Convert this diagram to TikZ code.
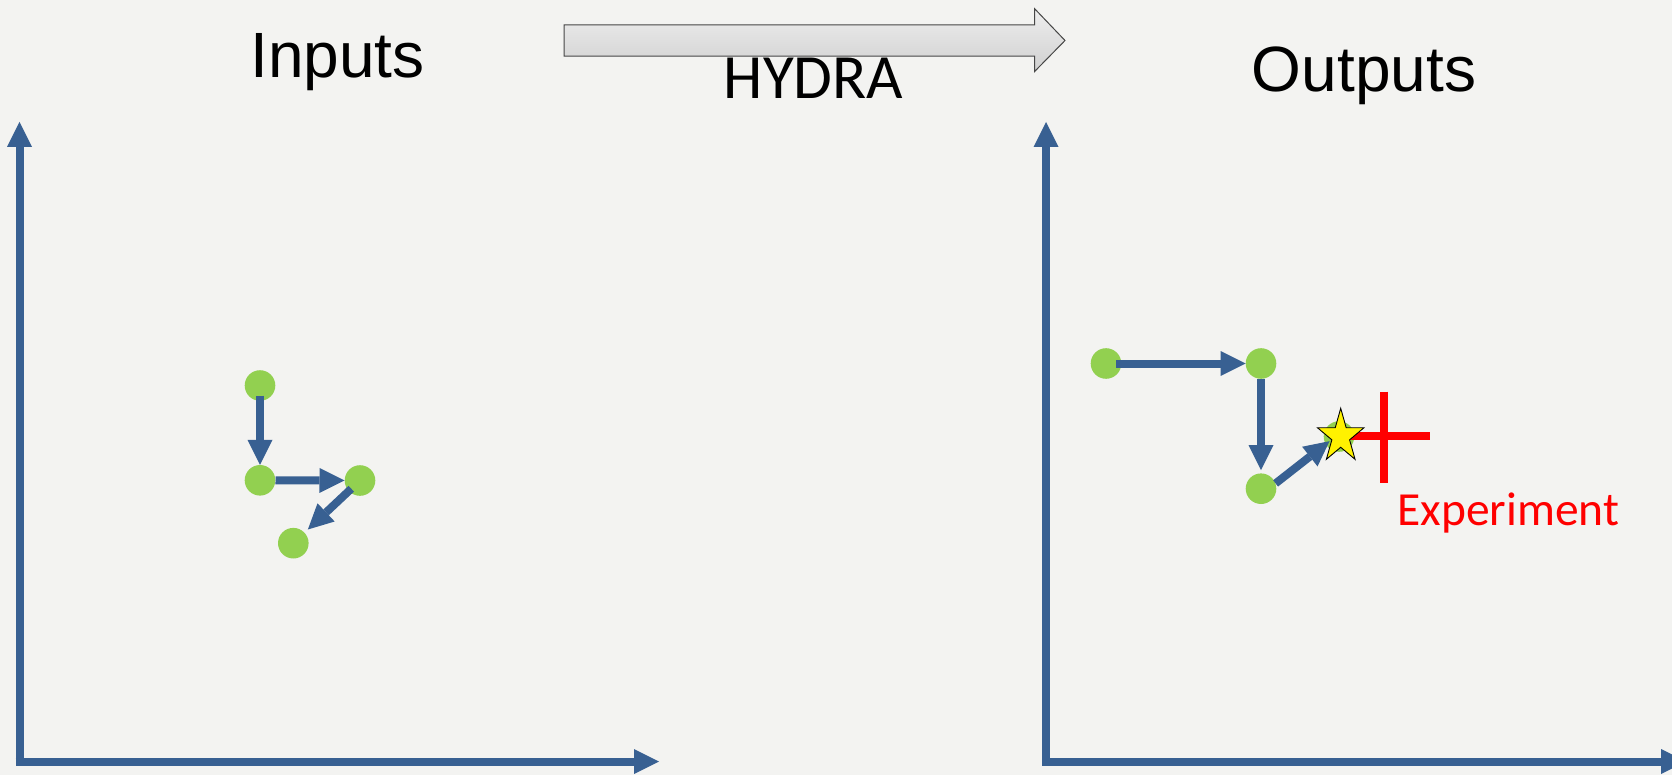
\documentclass[tikz,border=0pt]{standalone}
\usepackage{fontspec}
\newfontfamily\arialfont{Liberation Sans}
\newfontfamily\califont{Carlito}
\usetikzlibrary{arrows.meta}
\definecolor{bg}{RGB}{243,243,241}
\definecolor{axisblue}{RGB}{56,96,146}
\definecolor{dotgreen}{RGB}{146,208,80}
\definecolor{arrowedge}{RGB}{70,70,70}
\definecolor{shadetop}{RGB}{238,238,238}
\definecolor{shadebot}{RGB}{208,208,208}
\begin{document}
\begin{tikzpicture}[x=1pt,y=-1pt,
  dot/.style={circle, fill=dotgreen, minimum size=30.6pt, inner sep=0pt},
  conn/.style={draw=axisblue, line width=8pt, line cap=butt,
    -{Triangle[length=25pt,width=25pt,line width=0pt]}},
  title/.style={inner sep=0pt, anchor=base, font=\arialfont\fontsize{64}{64}\selectfont},
  crossbar/.style={draw=red, line width=8pt}]
% canvas
\fill[bg] (0,0) rectangle (1672,775);
\useasboundingbox (0,0) rectangle (1672,775);
\clip (0,0) rectangle (1672,775);

% titles
\node[title] (tin) at (337.5,77.7) {Inputs};
\node[title] (tout) at (1364,91.7) {Outputs};

% block arrow between the panels
\shade[top color=shadetop, bottom color=shadebot, draw=arrowedge, line width=1pt, line join=miter]
  (564,24.8) -- (1034.5,24.8) -- (1034.5,8.6) -- (1065,40.5) -- (1034.5,71.6)
  -- (1034.5,56.1) -- (564,56.1) -- cycle;
\node[inner sep=0pt, anchor=base, font=\califont\fontsize{63}{63}\selectfont] (hydra) at (813.5,98.5) {HYDRA};

% left axes
\coordinate (lo) at (19.5,761.5);
\coordinate (loh) at (15.5,761.5);
\coordinate (ly) at (19.5,122);
\coordinate (lx) at (659,761.5);
\draw[conn] (lo) -- (ly);
\draw[conn] (loh) -- (lx);

% right axes
\coordinate (ro) at (1046,761.5);
\coordinate (roh) at (1042,761.5);
\coordinate (ry) at (1046,122);
\coordinate (rx) at (1686,761.5);
\draw[conn] (ro) -- (ry);
\draw[conn] (roh) -- (rx);

% input points
\node[dot] (d1) at (260,385.5) {};
\node[dot] (d2) at (260,480.3) {};
\node[dot] (d3) at (360,480.5) {};
\node[dot] (d4) at (293.3,543.2) {};
\draw[conn, shorten <=10pt] (d1.center) -- (d2);
\draw[conn] (d2) -- (d3);
\draw[conn, shorten <=12pt, shorten >=20pt] (d3.center) -- (d4.center);

% output points
\node[dot] (a) at (1106,363.5) {};
\node[dot] (b) at (1261,363.5) {};
\node[dot] (c) at (1261,488.7) {};
\node[dot] (d) at (1339,436.5) {};
\draw[conn, shorten <=10pt] (a.center) -- (b);
\draw[conn, shorten >=3pt] (b) -- (c);
\draw[conn, shorten >=-5pt] (c.20) -- (d.210);

% experiment marker
\draw[crossbar] (1345,436.2) -- (1430,436.2);
\draw[crossbar] (1383.6,391.7) -- (1383.6,483.3);
\node[inner sep=0pt, anchor=base, text=red, font=\califont\fontsize{47.5}{47.5}\selectfont] (exp) at (1508.3,525) {Experiment};

% best-fit star
\draw[fill=yellow, draw=black, line width=0.9pt, line join=miter, shift={(1340.7,436.5)}, xscale=0.865]
  (270:28.2) -- (306:10.77) -- (342:28.2) -- (18:10.77) -- (54:28.2) -- (90:10.77)
  -- (126:28.2) -- (162:10.77) -- (198:28.2) -- (234:10.77) -- cycle;
\end{tikzpicture}
\end{document}
